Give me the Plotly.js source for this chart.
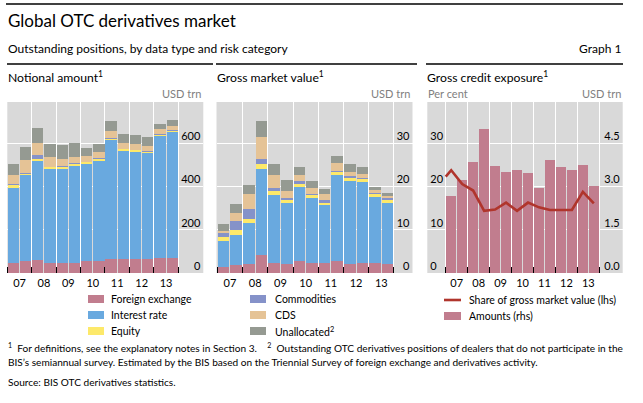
<!DOCTYPE html>
<html><head><meta charset="utf-8">
<script src="https://cdn.plot.ly/plotly-3.0.1.min.js"></script>
<style>html,body{margin:0;padding:0;background:#fff}#chart{width:643px;height:403px}</style>
</head><body><div id="chart"></div>
<script>
// ---- data ----
const periods = ['Jun 07','Dec 07','Jun 08','Dec 08','Jun 09','Dec 09','Jun 10','Dec 10','Jun 11','Dec 11','Jun 12','Dec 12','Jun 13','Dec 13'];
const yearLabels = ['07','08','09','10','11','12','13'];
const categories = ['Foreign exchange','Interest rate','Equity','Commodities','CDS','Unallocated'];

// Notional amount, USD trn
const notionalFX   = [48,57,62,48,48,48,54,57,66,63,66,66,71,71];
const notionalIR   = [347,395,456,433,433,447,450,461,549,501,494,489,563,581];
const notionalEq   = [10,5,10,8,8,9,7,10,5,8,8,5,4,5];
const notionalCom  = [7,6,15,3,6,2,3,1,4,2,1,3,3,3];
const notionalCDS  = [42,60,58,42,33,31,27,31,33,27,28,23,23,20];
const notionalUnal = [50,60,70,63,64,64,37,37,46,42,41,43,25,27];

// Gross market value, USD trn
const gmvFX   = [1.3,1.8,2.2,4.1,2.4,2.2,2.7,2.4,2.4,2.7,2.2,2.4,2.4,2.2];
const gmvIR   = [6.2,7.1,9.3,20.0,15.6,13.9,17.3,14.9,13.3,19.9,19.2,18.6,15.1,14.1];
const gmvEq   = [0.9,1.1,1.1,1.1,0.9,0.8,0.7,0.7,0.6,0.7,0.7,0.7,0.7,0.7];
const gmvCom  = [0.8,2.1,2.3,1.1,0.7,0.4,0.5,0.4,0.5,0.4,0.3,0.4,0.4,0.3];
const gmvCDS  = [0.6,1.9,3.3,5.1,3.0,1.8,1.5,1.3,1.4,1.7,1.1,0.9,0.7,0.6];
const gmvUnal = [1.5,1.9,2.1,3.8,2.7,2.5,1.9,1.7,1.3,1.7,1.8,1.6,0.7,0.7];

// Gross credit exposure
const gceAmounts = [2.66,3.24,3.86,5.0,3.72,3.52,3.59,3.48,2.97,3.93,3.69,3.59,3.76,3.03]; // USD trn (rhs)
const sharePeriods = ['Dec 06'].concat(periods);
const shareOfGMV = [22.3,23.8,20.6,19.1,14.4,14.7,16.3,14.4,16.3,15.2,14.6,14.6,14.6,18.8,16.1]; // per cent (lhs)

// ---- styling ----
const colors = {fx:'#c17d8e', ir:'#69a9df', eq:'#fde96a', com:'#8592c9', cds:'#e5c396', unal:'#959a92', line:'#b0352c'};
const FONT = 'Lato, "Open Sans", sans-serif';
const W = 643, H = 403;
const px = x => x / W, py = y => 1 - y / H;

const xIdx = periods.map((p, i) => i);
const yearPos = yearLabels.map((y, i) => 2 * i + 0.5);
const bounds = yearLabels.map((y, i) => 2 * i - 0.5).concat([2 * yearLabels.length - 0.5]);
// first share point (Dec 06) is drawn at the left edge of the bar band, as in the original
const shareX = sharePeriods.map((p, i) => i === 0 ? -0.5 : i - 1);

function stackTraces(series, xa, ya) {
  const keys = ['fx','ir','eq','com','cds','unal'];
  return series.map((vals, k) => ({
    type: 'bar', x: xIdx, y: vals, name: categories[k], xaxis: xa, yaxis: ya,
    marker: {color: colors[keys[k]], line: {width: 0}}, showlegend: false, hoverinfo: 'skip'
  }));
}

const traces = []
  .concat(stackTraces([notionalFX, notionalIR, notionalEq, notionalCom, notionalCDS, notionalUnal], 'x', 'y'))
  .concat(stackTraces([gmvFX, gmvIR, gmvEq, gmvCom, gmvCDS, gmvUnal], 'x2', 'y2'))
  .concat([
    {type:'bar', x: xIdx, y: gceAmounts, name:'Amounts (rhs)', xaxis:'x3', yaxis:'y3',
     marker:{color: colors.fx, line:{width:0}}, showlegend:false, hoverinfo:'skip'},
    {type:'scatter', mode:'lines', x: shareX, y: shareOfGMV, name:'Share of gross market value (lhs)',
     xaxis:'x3', yaxis:'y4', line:{color: colors.line, width: 2.6}, showlegend:false, hoverinfo:'skip'}
  ]);

function xAxis(domain, range, anchor) {
  return {
    domain: domain, range: range, anchor: anchor, fixedrange: true,
    tickmode: 'array', tickvals: yearPos, ticktext: yearLabels, ticks: '', ticklabelstandoff: 2,
    showgrid: false, zeroline: false, showline: false,
    tickfont: {family: FONT, size: 11, color: '#000'},
    minor: {tickmode: 'array', tickvals: bounds, ticks: 'inside', ticklen: 6, tickcolor: '#000', tickwidth: 1,
            showgrid: true, gridcolor: '#ffffff', gridwidth: 1}
  };
}
function yAxis(range, tickvals, side, anchor, extra) {
  return Object.assign({
    domain: [py(273), py(102)], range: range, anchor: anchor, side: side, fixedrange: true,
    tickmode: 'array', tickvals: tickvals, ticks: '', ticklabelposition: 'inside', ticklabelshift: -7,
    ticklabeloverflow: 'allow',
    showgrid: true, gridcolor: '#ffffff', gridwidth: 1, zeroline: false, showline: false,
    tickfont: {family: FONT, size: 11, color: '#000'}
  }, extra || {});
}

const annFont = (size, color) => ({family: FONT, size: size, color: color || '#000'});
const ann = (text, x, y, size, xanchor, color) => ({
  text: text, x: px(x), y: py(y), xref: 'paper', yref: 'paper', xanchor: xanchor || 'left', yanchor: 'middle',
  showarrow: false, font: annFont(size, color)
});

const annotations = [
  ann('Global OTC derivatives market', 6, 20, 17),
  ann('Outstanding positions, by data type and risk category', 6, 48, 12),
  ann('Graph 1', 623, 48, 12, 'right'),
  ann('Notional amount<sup>1</sup>', 6, 77, 12.2),
  ann('Gross market value<sup>1</sup>', 215, 77, 12.2),
  ann('Gross credit exposure<sup>1</sup>', 425, 77, 12.2),
  ann('USD trn', 203, 94, 11, 'right', '#808080'),
  ann('USD trn', 412, 94, 11, 'right', '#808080'),
  ann('USD trn', 623, 94, 11, 'right', '#808080'),
  ann('Per cent', 426, 94, 11, 'left', '#808080'),
  // legend labels
  ann('Foreign exchange', 109, 299, 10.5),
  ann('Interest rate', 109, 315, 10.5),
  ann('Equity', 109, 331, 10.5),
  ann('Commodities', 273, 299, 10.5),
  ann('CDS', 273, 315, 10.5),
  ann('Unallocated<sup>2</sup>', 273, 331, 10.5),
  ann('Share of gross market value (lhs)', 467, 300, 10.5),
  ann('Amounts (rhs)', 467, 316, 10.5),
  // footnotes
  ann('<sup>1</sup>\u00a0 For definitions, see the explanatory notes in Section 3.\u00a0\u00a0\u00a0 <sup>2</sup>\u00a0 Outstanding OTC derivatives positions of dealers that do not participate in the', 6, 347, 10.1),
  ann('BIS\u2019s semiannual survey. Estimated by the BIS based on the Triennial Survey of foreign exchange and derivatives activity.', 6, 362, 10.1),
  ann('Source: BIS OTC derivatives statistics.', 6, 382, 10.1)
];

const rect = (x0, y0, x1, y1, color) => ({type:'rect', xref:'paper', yref:'paper', x0:px(x0), x1:px(x1), y0:py(y1), y1:py(y0), fillcolor:color, line:{width:0}});
const hline = (x0, x1, y, w, color) => ({type:'line', xref:'paper', yref:'paper', x0:px(x0), x1:px(x1), y0:py(y), y1:py(y), line:{color:color||'#000', width:w}});

const shapes = [
  hline(6, 623, 4, 1.3),
  hline(7, 213, 64, 1.3), hline(216, 417, 64, 1.3), hline(426, 623, 64, 1.3),
  rect(88, 295, 104, 303, colors.fx), rect(88, 311, 104, 319, colors.ir), rect(88, 327, 104, 335, colors.eq),
  rect(250, 295, 266, 303, colors.com), rect(250, 311, 266, 319, colors.cds), rect(250, 327, 266, 335, colors.unal),
  hline(444, 461, 300, 2.6, colors.line),
  rect(444, 312, 461, 320, colors.fx)
];

const layout = {
  width: W, height: H, margin: {l:0, r:0, t:0, b:0}, paper_bgcolor: '#fff', plot_bgcolor: '#d9d9d9',
  barmode: 'stack', bargap: 0.08, showlegend: false, font: {family: FONT, size: 11, color: '#000'},
  xaxis: xAxis([px(7.3), px(203.3)], [-0.5, 15.55], 'y'),
  yaxis: yAxis([0, 790], [0,200,400,600], 'right', 'x'),
  xaxis2: xAxis([px(216.5), px(412.5)], [-0.563, 14.97], 'y2'),
  yaxis2: yAxis([0, 39.6], [0,10,20,30], 'right', 'x2'),
  xaxis3: xAxis([px(427.3), px(622.7)], [-2.18, 15.63], 'y3'),
  yaxis3: yAxis([0, 5.94], [0,1.5,3,4.5], 'right', 'x3', {tickformat: '.1f'}),
  yaxis4: yAxis([0, 39.6], [0,10,20,30], 'left', 'x3', {overlaying: 'y3', showgrid: false}),
  annotations: annotations, shapes: shapes
};

Plotly.newPlot('chart', traces, layout, {staticPlot: true, displayModeBar: false});
</script></body></html>
